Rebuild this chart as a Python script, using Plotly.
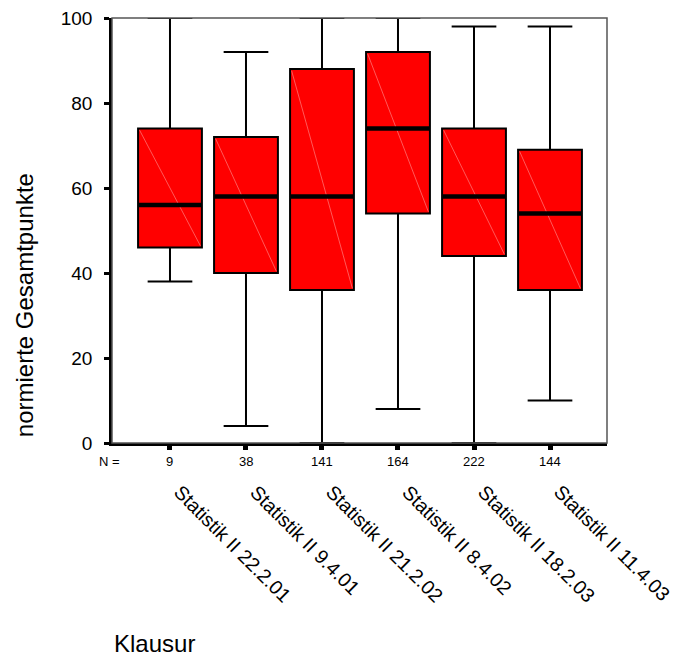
import plotly.graph_objects as go

# Exam sessions and their five-number summaries (normalised total points)
klausuren = ["Statistik II 22.2.01", "Statistik II 9.4.01", "Statistik II 21.2.02",
             "Statistik II 8.4.02", "Statistik II 18.2.03", "Statistik II 11.4.03"]
n_counts = [9, 38, 141, 164, 222, 144]
lower_whisker = [38, 4, 0, 8, 0, 10]
q1 = [46, 40, 36, 54, 44, 36]
median = [56, 58, 58, 74, 58, 54]
q3 = [74, 72, 88, 92, 74, 69]
upper_whisker = [100, 92, 100, 100, 98, 98]
y_ticks = [0, 20, 40, 60, 80, 100]

FONT = "Liberation Sans, Arial, sans-serif"
BOX_W = 0.84
pos = list(range(len(klausuren)))

fig = go.Figure()

fig.add_trace(go.Box(
    x=pos, q1=q1, median=median, q3=q3,
    lowerfence=lower_whisker, upperfence=upper_whisker,
    width=BOX_W, whiskerwidth=0.7,
    fillcolor="#ff0000", line=dict(color="black", width=2),
    boxpoints=False, hoverinfo="skip", showlegend=False,
))

# faint diagonal shading streak inside each box
for i in pos:
    fig.add_trace(go.Scatter(
        x=[i - BOX_W / 2 + 0.02, i + BOX_W / 2 - 0.02], y=[q3[i] - 0.4, q1[i] + 0.4],
        mode="lines", line=dict(color="rgba(255,150,150,0.75)", width=0.8),
        hoverinfo="skip", showlegend=False,
    ))

# heavy median bars
for i in pos:
    fig.add_trace(go.Scatter(
        x=[i - BOX_W / 2, i + BOX_W / 2], y=[median[i], median[i]],
        mode="lines", line=dict(color="black", width=4.5),
        hoverinfo="skip", showlegend=False,
    ))

annotations = [
    dict(text="N =", xref="paper", yref="paper", x=0.0196, y=-0.044,
         xanchor="right", yanchor="middle", showarrow=False,
         font=dict(family=FONT, size=13, color="black")),
    dict(text="normierte Gesamtpunkte", xref="paper", yref="paper",
         x=-0.178, y=0.324, textangle=-90, xanchor="center", yanchor="middle",
         showarrow=False, font=dict(family=FONT, size=24, color="black")),
    dict(text="Klausur", xref="paper", yref="paper", x=0.0, y=-0.471,
         xanchor="left", yanchor="middle", showarrow=False,
         font=dict(family=FONT, size=24, color="black")),
]
for i, n in zip(pos, n_counts):
    annotations.append(dict(
        text=str(n), xref="x", yref="paper", x=i, y=-0.044,
        xanchor="center", yanchor="middle", showarrow=False,
        font=dict(family=FONT, size=13, color="black")))
# slanted session names below the counts
for i, name in zip(pos, klausuren):
    annotations.append(dict(
        text=name, xref="x", yref="paper", x=i - 0.035, y=-0.082,
        xanchor="left", yanchor="top", textangle=45, showarrow=False,
        font=dict(family=FONT, size=19.6, color="black")))

fig.update_layout(
    width=675, height=657,
    margin=dict(l=112, r=68, t=18, b=214),
    paper_bgcolor="white", plot_bgcolor="white",
    annotations=annotations,
    shapes=[dict(type="rect", xref="paper", yref="paper", x0=0, y0=0, x1=1, y1=1,
                 line=dict(color="#555555", width=1.5), layer="above")],
)

fig.update_xaxes(
    range=[-0.763, 5.75], tickmode="array", tickvals=pos, showticklabels=False,
    ticks="outside", ticklen=4, tickwidth=5, tickcolor="black", automargin=False,
    showgrid=False, zeroline=False, showline=True, linecolor="black", linewidth=2.5,
)
fig.update_yaxes(
    range=[0, 100], tickmode="array", tickvals=y_ticks,
    ticks="outside", ticklen=5, tickwidth=3, tickcolor="black", automargin=False,
    ticklabelstandoff=8,
    showgrid=False, zeroline=False, showline=True, linecolor="black", linewidth=2.5,
    tickfont=dict(family=FONT, size=19, color="black"),
)

fig.write_html("out.html")
